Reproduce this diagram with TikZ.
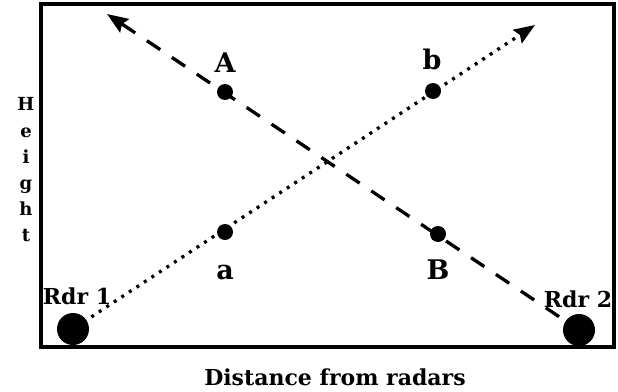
\documentclass[tikz,border=0pt]{standalone}
\usepackage{fontspec}
\setmainfont{DejaVu Serif}
\usetikzlibrary{arrows.meta}
\begin{document}
\begin{tikzpicture}[x=1pt,y=-1pt,
  radar/.style={circle,fill=black,minimum size=32pt,inner sep=0pt},
  pt/.style={circle,fill=black,minimum size=16pt,inner sep=0pt},
  lbl/.style={font=\fontsize{27}{30}\selectfont\bfseries,inner sep=0pt},
  rlbl/.style={font=\fontsize{22}{24}\selectfont\bfseries,inner sep=0pt},
  dashline/.style={line width=3.3pt,dash pattern=on 16pt off 14pt,-{Stealth[length=21pt,width=16pt,inset=3pt]}},
  dotline/.style={line width=3.3pt,dash pattern=on 3pt off 6pt,-{Stealth[length=21pt,width=16pt,inset=3pt]}}]
\useasboundingbox (0,0) rectangle (618,391);
\draw[line width=3.3pt] (41,4) rectangle (614,347);
\node[radar] (r1) at (73,329) {};
\node[radar] (r2) at (579,330) {};
\coordinate (t1) at (535,25);
\coordinate (t2) at (107,14);
\draw[dashline,shorten <=24pt] (r2.center) -- (t2);
\draw[dotline,shorten <=22pt] (r1.center) -- (t1);
\node[pt] (A) at (225,92) {};
\node[pt] (b) at (433,91) {};
\node[pt] (a) at (225,232) {};
\node[pt] (B) at (438,234) {};
\node[lbl] (lA) at (225,63) {A};
\node[lbl] (lb) at (432,59) {b};
\node[lbl] (la) at (225,272) {a};
\node[lbl] (lB) at (438,270) {B};
\node[rlbl] (l1) at (77,296) {Rdr 1};
\node[rlbl] (l2) at (578,299) {Rdr 2};
\node[rlbl] (xl) at (335,377) {Distance from radars};
\node[font=\fontsize{18}{26.2}\selectfont\bfseries,align=center,inner sep=0pt] (yl) at (26,170) {H\\e\\i\\g\\h\\t};
\end{tikzpicture}
\end{document}
